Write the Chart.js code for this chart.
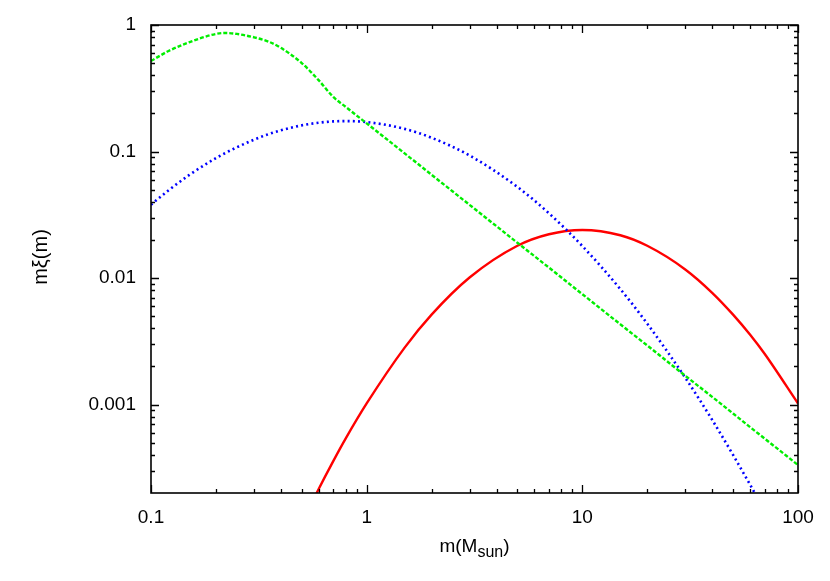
<!DOCTYPE html>
<html>
<head>
<meta charset="utf-8">
<script src="https://cdn.jsdelivr.net/npm/chart.js@4"></script>
<style>
  html, body { margin: 0; padding: 0; background: #fff; }
</style>
</head>
<body>
<canvas id="imf" width="830" height="581"></canvas>
<script>
const masses = [0.1, 0.12, 0.15, 0.2, 0.22, 0.25, 0.3, 0.35, 0.4, 0.5, 0.6, 0.7, 0.8, 1,
  1.5, 2, 3, 5, 7, 10, 15, 20, 30, 40, 50, 60, 70, 100];

// green dashed
const greenVals = [0.52, 0.62, 0.73, 0.85, 0.865, 0.85, 0.80, 0.74, 0.66, 0.50, 0.365, 0.27, 0.225, 0.167,
  0.0967, 0.0655, 0.0379, 0.0190, 0.0121, 0.00746, 0.00431, 0.00293, 0.00169, 0.00115, 0.00085, 0.000663, 0.000539, 0.000333];

// blue dotted
const blueVals = [0.038, 0.049, 0.065, 0.0887, 0.0969, 0.108, 0.124, 0.137, 0.147, 0.161, 0.169, 0.173, 0.174, 0.171,
  0.151, 0.1285, 0.093, 0.0525, 0.0325, 0.0179, 0.00818, 0.00436, 0.00163, 0.000757, 0.0004, 0.000232, 0.000144, 0.0000436];

// red solid
const redVals = [null, null, null, null, null, null, null, null, null, 0.000115, 0.000216, 0.000357, 0.00054, 0.00102,
  0.00282, 0.00514, 0.0101, 0.0180, 0.0222, 0.024, 0.0218, 0.0180, 0.0117, 0.00765, 0.00514, 0.00356, 0.00252, 0.00102];

const xTicks = [0.1, 1, 10, 100];
const yTicks = [0.001, 0.01, 0.1, 1];
const xRange = [0.1, 100];
const yRange = [0.0002, 1];

const FONT = "'Liberation Sans', Arial, sans-serif";

const toPoints = (vals) => masses.map((m, i) => ({ x: m, y: vals[i] }));

const tickLabel = (v) => String(v);

// minor tick positions k*10^n inside a range
const minorTicks = (lo, hi) => {
  const out = [];
  for (let e = Math.floor(Math.log10(lo)); e <= Math.ceil(Math.log10(hi)); e++) {
    for (let k = 2; k <= 9; k++) {
      const v = k * Math.pow(10, e);
      if (v > lo * 1.0001 && v < hi * 0.9999) out.push(v);
    }
  }
  return out;
};

// gnuplot style box with inward ticks on every side + axis titles
const framePlugin = {
  id: "frame",
  afterDraw(chart) {
    const { ctx, chartArea: a, scales } = chart;
    ctx.save();
    ctx.strokeStyle = "#000";
    ctx.lineWidth = 1.3;

    const major = 8, minor = 4;
    ctx.beginPath();
    xTicks.forEach((v) => {
      const px = Math.round(scales.x.getPixelForValue(v)) + 0.5;
      ctx.moveTo(px, a.bottom); ctx.lineTo(px, a.bottom - major);
      ctx.moveTo(px, a.top); ctx.lineTo(px, a.top + major);
    });
    minorTicks(xRange[0], xRange[1]).forEach((v) => {
      const px = Math.round(scales.x.getPixelForValue(v)) + 0.5;
      ctx.moveTo(px, a.bottom); ctx.lineTo(px, a.bottom - minor);
      ctx.moveTo(px, a.top); ctx.lineTo(px, a.top + minor);
    });
    yTicks.forEach((v) => {
      const py = Math.round(scales.y.getPixelForValue(v)) + 0.5;
      ctx.moveTo(a.left, py); ctx.lineTo(a.left + major, py);
      ctx.moveTo(a.right, py); ctx.lineTo(a.right - major, py);
    });
    minorTicks(yRange[0], yRange[1]).forEach((v) => {
      const py = Math.round(scales.y.getPixelForValue(v)) + 0.5;
      ctx.moveTo(a.left, py); ctx.lineTo(a.left + minor, py);
      ctx.moveTo(a.right, py); ctx.lineTo(a.right - minor, py);
    });
    ctx.stroke();

    ctx.lineWidth = 1.6;
    ctx.strokeRect(a.left, a.top, a.right - a.left, a.bottom - a.top);

    // x title: m(M_sun)
    ctx.fillStyle = "#000";
    ctx.textBaseline = "alphabetic";
    ctx.textAlign = "left";
    const big = "19px " + FONT, small = "16px " + FONT;
    ctx.font = big;
    const w1 = ctx.measureText("m(M").width;
    const w3 = ctx.measureText(")").width;
    ctx.font = small;
    const w2 = ctx.measureText("sun").width;
    let x0 = (a.left + a.right) / 2 - (w1 + w2 + w3) / 2;
    const base = 552;
    ctx.font = big;
    ctx.fillText("m(M", x0, base);
    ctx.font = small;
    ctx.fillText("sun", x0 + w1, base + 5);
    ctx.font = big;
    ctx.fillText(")", x0 + w1 + w2, base);

    // y title
    ctx.translate(41, (a.top + a.bottom) / 2 - 2);
    ctx.rotate(-Math.PI / 2);
    ctx.textAlign = "center";
    ctx.textBaseline = "middle";
    ctx.font = "20px " + FONT;
    ctx.fillText("mξ(m)", 0, 0);
    ctx.restore();
  },
};

const chart = new Chart("imf", {
  type: "line",
  data: {
    datasets: [
      {
        label: "green",
        data: toPoints(greenVals),
        borderColor: "#00ee00",
        borderWidth: 2.4,
        borderDash: [4, 2],
      },
      {
        label: "blue",
        data: toPoints(blueVals),
        borderColor: "#0000ff",
        borderWidth: 2.6,
        borderDash: [2, 3.2],
      },
      {
        label: "red",
        data: toPoints(redVals),
        borderColor: "#ff0000",
        borderWidth: 2.4,
      },
    ],
  },
  options: {
    responsive: false,
    animation: false,
    events: [],
    layout: { padding: { top: 25, right: 32, left: 0, bottom: 0 } },
    elements: {
      point: { radius: 0 },
      line: { cubicInterpolationMode: "monotone", fill: false },
    },
    plugins: {
      legend: { display: false },
      tooltip: { enabled: false },
    },
    scales: {
      x: {
        type: "logarithmic",
        min: xRange[0],
        max: xRange[1],
        grid: { display: false },
        border: { display: false },
        afterBuildTicks: (scale) => {
          scale.ticks = xTicks.map((v) => ({ value: v }));
        },
        afterFit: (scale) => {
          scale.height = 88;
        },
        ticks: {
          autoSkip: false,
          maxRotation: 0,
          padding: 5,
          color: "#000",
          font: { family: FONT, size: 19 },
          callback: tickLabel,
        },
      },
      y: {
        type: "logarithmic",
        min: yRange[0],
        max: yRange[1],
        grid: { display: false },
        border: { display: false },
        afterBuildTicks: (scale) => {
          scale.ticks = yTicks.map((v) => ({ value: v }));
        },
        afterFit: (scale) => {
          scale.width = 151;
        },
        ticks: {
          autoSkip: false,
          padding: 7,
          color: "#000",
          font: { family: FONT, size: 19 },
          callback: tickLabel,
        },
      },
    },
  },
  plugins: [framePlugin],
});
</script>
</body>
</html>
